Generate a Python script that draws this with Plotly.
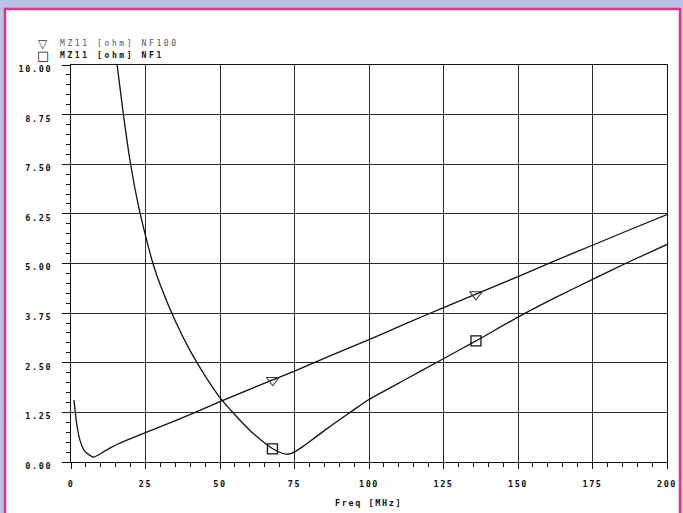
import plotly.graph_objects as go

# ---- data ----
freq_nf100 = [1.0, 1.9, 3.0, 4.7, 7.5, 9.0, 11.0, 13.0, 15.9, 20.0, 25.0, 30.0, 37.5,
              50.0, 62.5, 75.0, 87.5, 100.0, 112.5, 125.0, 137.5, 150.0, 162.5, 175.0,
              187.5, 200.0]
z_nf100 = [1.56, 0.97, 0.55, 0.26, 0.12, 0.17, 0.26, 0.35, 0.46, 0.59, 0.74, 0.89, 1.12,
           1.52, 1.91, 2.29, 2.69, 3.08, 3.49, 3.89, 4.28, 4.67, 5.07, 5.46, 5.85, 6.23]

freq_nf1 = [14.5, 15.0, 17.5, 20.0, 22.5, 25.0, 27.5, 30.0, 35.0, 40.0, 45.0, 50.0,
            55.0, 60.0, 65.0, 68.0, 70.0, 72.0, 74.0, 76.0, 78.0, 80.0, 85.0, 90.0,
            95.0, 100.0, 112.5, 122.5, 135.9, 150.0, 162.5, 175.0, 187.5, 200.0]
z_nf1 = [10.65, 10.3, 8.8, 7.5, 6.5, 5.70, 5.00, 4.45, 3.55, 2.80, 2.17, 1.62,
         1.19, 0.80, 0.48, 0.32, 0.245, 0.20, 0.22, 0.30, 0.40, 0.51, 0.79, 1.06,
         1.32, 1.575, 2.09, 2.50, 3.05, 3.65, 4.14, 4.60, 5.05, 5.48]

marker_freq_nf100 = [67.7, 135.9]
marker_z_nf100 = [2.06, 4.22]
marker_freq_nf1 = [67.6, 135.9]
marker_z_nf1 = [0.33, 3.05]

y_tick_vals = [0, 1.25, 2.5, 3.75, 5.0, 6.25, 7.5, 8.75, 10.0]
y_tick_text = ["0.00", "1.25", "2.50", "3.75", "5.00", "6.25", "7.50", "8.75", "10.00"]
x_tick_vals = [0, 25, 50, 75, 100, 125, 150, 175, 200]
x_tick_text = ["0", "25", "50", "75", "100", "125", "150", "175", "200"]

legend_labels = ["MZ11 [ohm] NF100", "MZ11 [ohm] NF1"]
x_title = "Freq [MHz]"

FONT = "DejaVu Sans Mono"
SP = '<span style="letter-spacing:1.6px">{}</span>'
SPL = '<span style="letter-spacing:2.6px">{}</span>'

fig = go.Figure()
fig.add_trace(go.Scatter(x=freq_nf100, y=z_nf100, mode="lines",
                         line=dict(color="#111", width=1.3, shape="spline", smoothing=0.5),
                         showlegend=False, hoverinfo="skip"))
fig.add_trace(go.Scatter(x=freq_nf1, y=z_nf1, mode="lines",
                         line=dict(color="#111", width=1.3, shape="spline", smoothing=0.5),
                         showlegend=False, hoverinfo="skip"))
fig.add_trace(go.Scatter(x=marker_freq_nf100, y=marker_z_nf100, mode="markers",
                         marker=dict(symbol="triangle-down-open", size=11, color="#333",
                                     line=dict(color="#333", width=1.1)),
                         showlegend=False))
fig.add_trace(go.Scatter(x=marker_freq_nf1, y=marker_z_nf1, mode="markers",
                         marker=dict(symbol="square-open", size=10, color="#111",
                                     line=dict(color="#111", width=1.3)),
                         showlegend=False))

W, H = 683, 513
L, R, T, B = 71, 16, 65, 51
pw, ph = W - L - R, H - T - B


def px_x(px):
    return (px - L) / pw


def px_y(py):
    return (H - B - py) / ph


fig.add_shape(type="rect", xref="paper", yref="paper",
              x0=px_x(5), x1=px_x(680), y0=px_y(530), y1=px_y(9),
              line=dict(color="#e0357f", width=2.5), fillcolor="white", layer="below")

# legend (symbol + text)
fig.add_annotation(xref="paper", yref="paper", x=px_x(43), y=px_y(44), text="▽",
                   showarrow=False, font=dict(family="DejaVu Sans", size=12, color="#333"),
                   xanchor="center", yanchor="middle", borderpad=0)
fig.add_annotation(xref="paper", yref="paper", x=px_x(58), y=px_y(44), text=SPL.format(legend_labels[0]),
                   showarrow=False, font=dict(family=FONT, size=8, color="#555"),
                   xanchor="left", yanchor="middle")
fig.add_annotation(xref="paper", yref="paper", x=px_x(43), y=px_y(56), text="□",
                   showarrow=False, font=dict(family="DejaVu Sans", size=13, color="#111"),
                   xanchor="center", yanchor="middle", borderpad=0)
fig.add_annotation(xref="paper", yref="paper", x=px_x(58), y=px_y(56), text="<b>" + SPL.format(legend_labels[1]) + "</b>",
                   showarrow=False, font=dict(family=FONT, size=8, color="#111"),
                   xanchor="left", yanchor="middle")
fig.add_annotation(xref="paper", yref="paper", x=px_x(368), y=px_y(503), text="<b>" + SP.format(x_title) + "</b>",
                   showarrow=False, font=dict(family=FONT, size=8.5, color="#111"),
                   xanchor="center", yanchor="middle")

fig.update_xaxes(range=[0, 200], tickvals=x_tick_vals,
                 ticktext=["<b>" + SP.format(t) + "</b>" for t in x_tick_text],
                 tickfont=dict(family=FONT, size=8.5, color="#111"),
                 showgrid=True, gridcolor="#2a2a2a", gridwidth=1,
                 showline=True, linecolor="#111", linewidth=1.2, mirror=True,
                 ticks="outside", ticklen=6, tickcolor="#111", tickwidth=1.2,
                 minor=dict(dtick=5, tick0=0, ticks="outside", ticklen=4, tickcolor="#111",
                            tickwidth=1.2, showgrid=False),
                 ticklabelstandoff=8, zeroline=False, automargin=False)
fig.update_yaxes(range=[0, 10], tickvals=y_tick_vals,
                 ticktext=["<b>" + SP.format(t) + "</b>" for t in y_tick_text],
                 tickfont=dict(family=FONT, size=8.5, color="#111"),
                 showgrid=True, gridcolor="#2a2a2a", gridwidth=1,
                 showline=True, linecolor="#111", linewidth=1.2, mirror=True,
                 ticks="outside", ticklen=8, tickcolor="#111", tickwidth=1.2,
                 minor=dict(dtick=0.25, tick0=0, ticks="outside", ticklen=4, tickcolor="#111",
                            tickwidth=1.2, showgrid=False),
                 ticklabelstandoff=8, ticklabelshift=4, zeroline=False, automargin=False)

fig.update_layout(width=W, height=H, margin=dict(l=L, r=R, t=T, b=B, pad=0, autoexpand=False),
                  paper_bgcolor="#b8c2e6", plot_bgcolor="white",
                  showlegend=False)

fig.write_html("out.html", config={"displayModeBar": False},
               post_script="document.body.style.margin='0';document.body.style.overflow='hidden';")
